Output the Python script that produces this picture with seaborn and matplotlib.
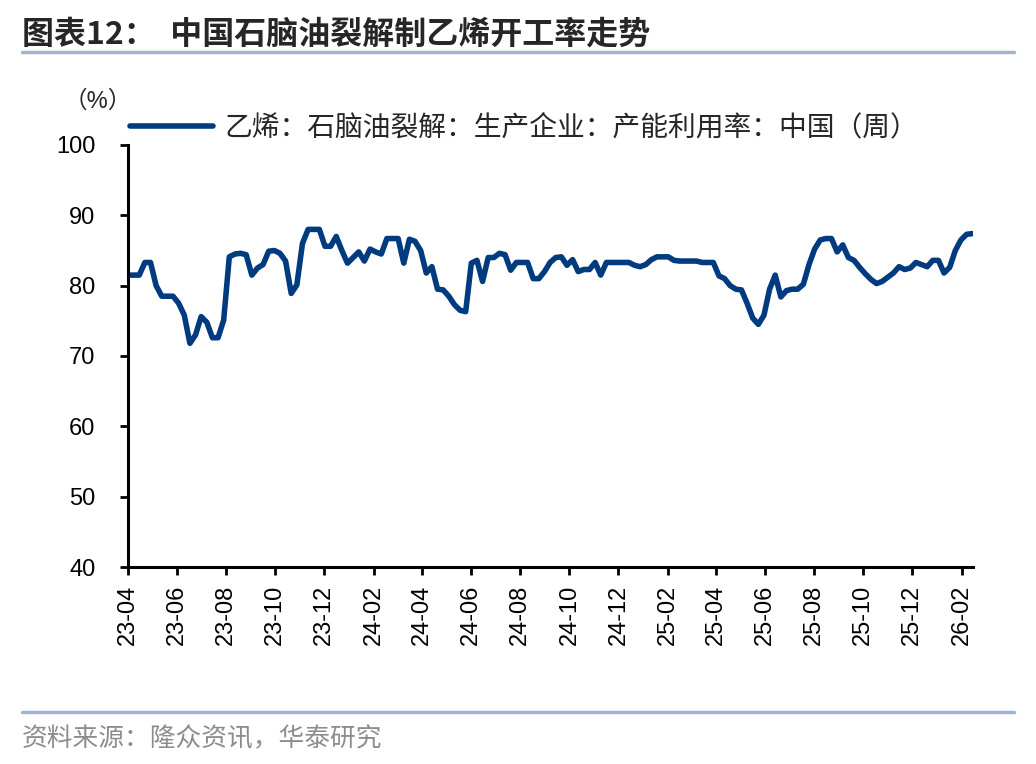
import seaborn as sns
import matplotlib.pyplot as plt
import matplotlib.dates as mdates
import matplotlib.lines as mlines
import pandas as pd

# weekly naphtha-cracker ethylene utilisation (%)
start_date = '2023-04-01'
rate = [
    81.5, 81.5, 81.5, 83.3, 83.3, 80.0, 78.5, 78.5, 78.5, 77.5,
    75.8, 71.8, 73.0, 75.6, 74.8, 72.6, 72.6, 75.1, 84.1, 84.5,
    84.6, 84.4, 81.5, 82.5, 83.0, 84.9, 85.0, 84.6, 83.5, 78.9,
    80.1, 86.0, 88.0, 88.0, 88.0, 85.6, 85.6, 87.0, 85.0, 83.2,
    84.0, 84.8, 83.5, 85.2, 84.8, 84.5, 86.7, 86.7, 86.7, 83.2,
    86.6, 86.3, 85.0, 81.8, 82.7, 79.5, 79.4, 78.5, 77.3, 76.5,
    76.3, 83.2, 83.6, 80.6, 84.0, 84.0, 84.6, 84.4, 82.2, 83.3,
    83.3, 83.3, 81.0, 81.0, 82.0, 83.3, 84.0, 84.1, 82.9, 83.7,
    82.0, 82.3, 82.3, 83.3, 81.5, 83.3, 83.3, 83.3, 83.3, 83.3,
    82.9, 82.7, 83.0, 83.7, 84.1, 84.1, 84.1, 83.6, 83.5, 83.5,
    83.5, 83.5, 83.3, 83.3, 83.3, 81.4, 81.0, 80.0, 79.5, 79.4,
    77.5, 75.4, 74.5, 75.8, 79.5, 81.5, 78.4, 79.3, 79.5, 79.5,
    80.2, 83.0, 85.2, 86.5, 86.7, 86.7, 84.8, 85.8, 84.0, 83.6,
    82.6, 81.7, 80.9, 80.3, 80.6, 81.2, 81.8, 82.7, 82.3, 82.5,
    83.3, 83.0, 82.7, 83.6, 83.6, 81.8, 82.6, 85.0, 86.5, 87.3,
    87.4,
]
series_name = '乙烯：石脑油裂解：生产企业：产能利用率：中国（周）'
title = '图表12：  中国石脑油裂解制乙烯开工率走势'
source = '资料来源：隆众资讯，华泰研究'
y_ticks = [40, 50, 60, 70, 80, 90, 100]

df = pd.DataFrame({
    'date': pd.date_range(start_date, periods=len(rate), freq='7D'),
    'rate': rate,
})

sns.set_style('ticks')
plt.rcParams['font.family'] = ['Liberation Sans', 'Noto Sans CJK SC', 'DejaVu Sans']

navy = '#003A7F'
rule = '#9FB4CD'

fig = plt.figure(figsize=(10.36, 7.64), dpi=100)
ax = fig.add_axes([128 / 1036, 1 - 567 / 764, (973 - 128) / 1036, (567 - 145) / 764])

sns.lineplot(data=df, x='date', y='rate', ax=ax, color=navy, linewidth=4, legend=False)

ax.set_ylim(40, 100)
ax.set_yticks(y_ticks)
ax.set_xlim(pd.Timestamp(start_date), df['date'].iloc[-1] + pd.Timedelta(days=1))
ax.xaxis.set_major_locator(mdates.MonthLocator(bymonth=[2, 4, 6, 8, 10, 12]))
ax.xaxis.set_major_formatter(mdates.DateFormatter('%y-%m'))
ax.set_xlabel('')
ax.set_ylabel('')

for s in ['top', 'right']:
    ax.spines[s].set_visible(False)
for s in ['left', 'bottom']:
    ax.spines[s].set_linewidth(2.2)
    ax.spines[s].set_color('black')
ax.tick_params(axis='both', direction='out', length=5.5, width=2, labelsize=17, colors='black')
ax.tick_params(axis='x', labelrotation=90, pad=7)
ax.tick_params(axis='y', pad=18)

# legend above the plot
handle = mlines.Line2D([], [], color=navy, linewidth=4)
fig.legend([handle], [series_name], loc='center left',
           bbox_to_anchor=(130 / 1036, 1 - 128 / 764), frameon=False,
           fontsize=20, handlelength=3.0, handletextpad=0.4,
           borderpad=0, borderaxespad=0)

fig.text(64 / 1036, 1 - 101 / 764, '（%）', fontsize=17, va='center', ha='left')

# title, rules and source
fig.text(22 / 1036, 1 - 35 / 764, title, fontsize=23, fontweight='bold',
         va='center', ha='left', family=['Noto Sans CJK SC', 'DejaVu Sans'])
fig.add_artist(mlines.Line2D([22 / 1036, 1014 / 1036], [1 - 52 / 764] * 2,
                             color=rule, linewidth=2.5, transform=fig.transFigure))
fig.add_artist(mlines.Line2D([22 / 1036, 1014 / 1036], [1 - 712 / 764] * 2,
                             color=rule, linewidth=2.5, transform=fig.transFigure))
fig.text(22 / 1036, 1 - 739 / 764, source, fontsize=18.5, color='#8C8C8C',
         va='center', ha='left', family=['Noto Sans CJK SC', 'DejaVu Sans'])

fig.savefig('out.png', dpi=100, facecolor='white')
